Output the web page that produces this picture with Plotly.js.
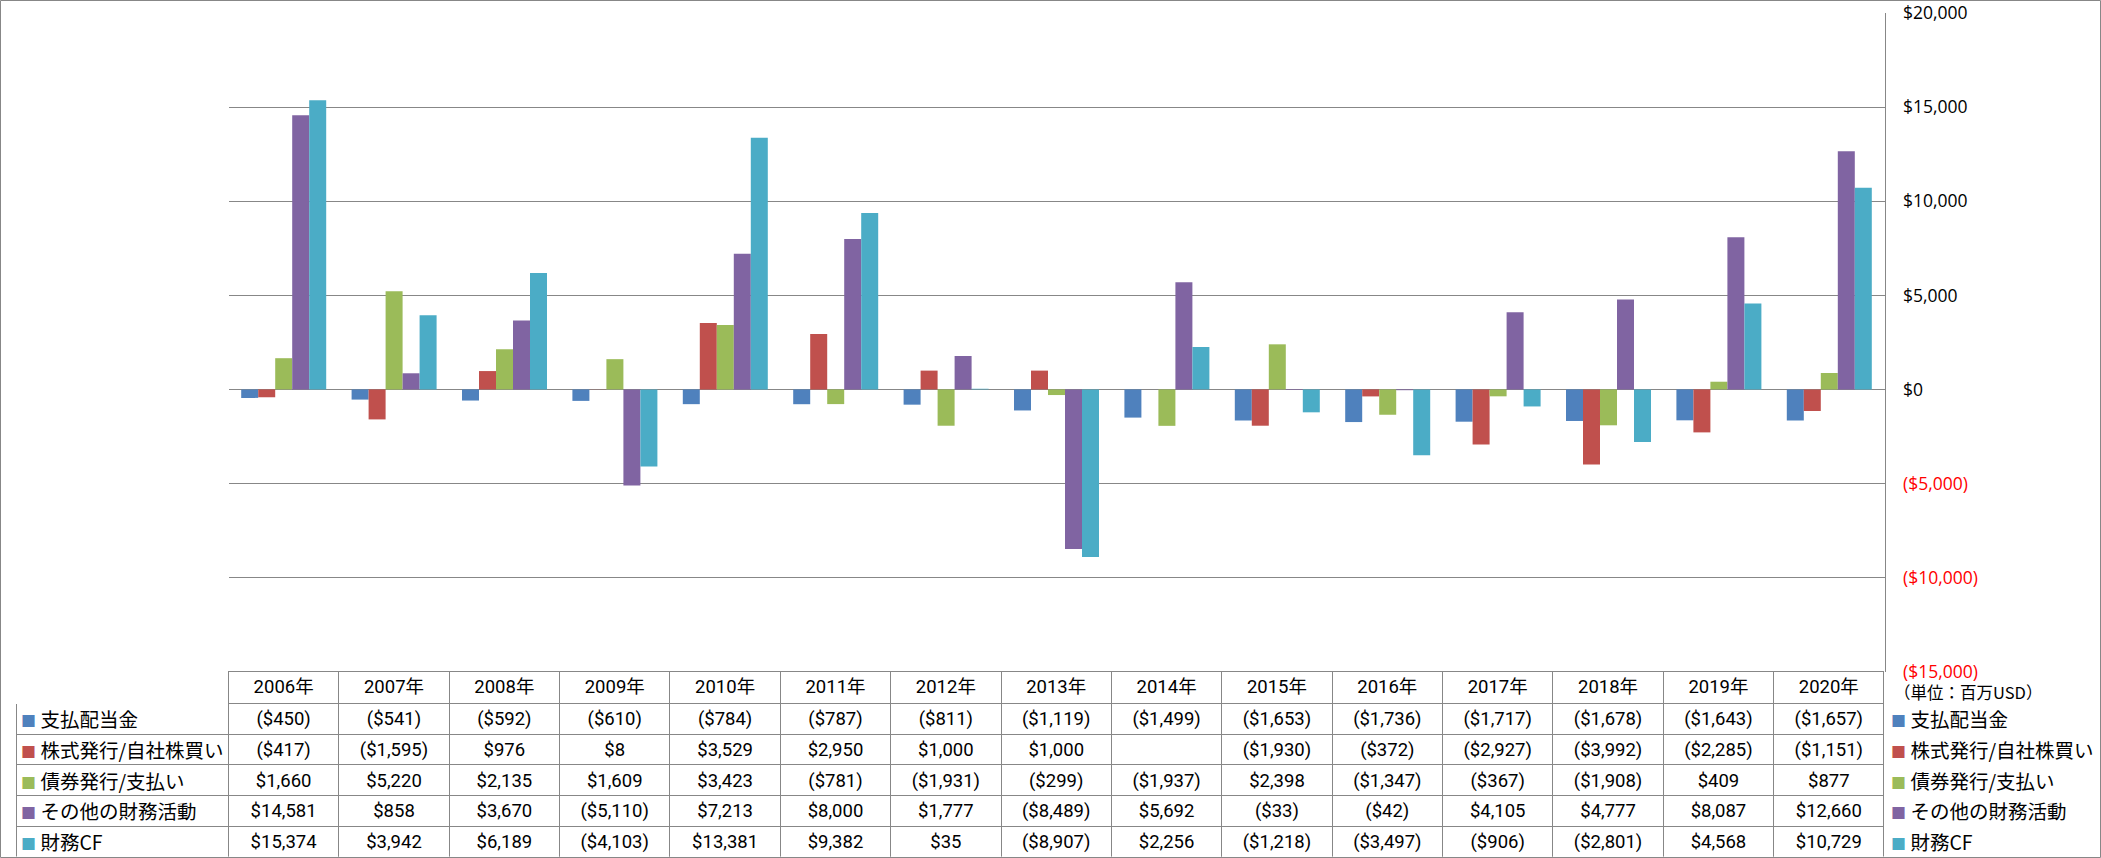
<!DOCTYPE html>
<html>
<head>
<meta charset="utf-8">
<script src="https://cdn.plot.ly/plotly-3.0.1.min.js"></script>
<style>
html,body{margin:0;padding:0;background:#fff;}
#chart{width:2101px;height:858px;}
</style>
</head>
<body>
<div id="chart"></div>
<script>
// ---- data ----
const years = ["2006年","2007年","2008年","2009年","2010年","2011年","2012年","2013年","2014年","2015年","2016年","2017年","2018年","2019年","2020年"];
const seriesNames = ["支払配当金","株式発行/自社株買い","債券発行/支払い","その他の財務活動","財務CF"];
const dividends = [-450,-541,-592,-610,-784,-787,-811,-1119,-1499,-1653,-1736,-1717,-1678,-1643,-1657];
const stockIssue = [-417,-1595,976,8,3529,2950,1000,1000,null,-1930,-372,-2927,-3992,-2285,-1151];
const debtIssue = [1660,5220,2135,1609,3423,-781,-1931,-299,-1937,2398,-1347,-367,-1908,409,877];
const otherFin = [14581,858,3670,-5110,7213,8000,1777,-8489,5692,-33,-42,4105,4777,8087,12660];
const financingCF = [15374,3942,6189,-4103,13381,9382,35,-8907,2256,-1218,-3497,-906,-2801,4568,10729];
const yTicks = [-15000,-10000,-5000,0,5000,10000,15000,20000];
const unitLabel = "（単位：百万USD）";

// ---- style ----
const colors = ["#4F81BD","#C0504D","#9BBB59","#8064A2","#4BACC6"];
const W = 2101, H = 858;
const grid = "#878787";
const plotL = 228.5, plotR = 1884.5, plotT = 13.3, plotB = 671.5;
const tabL = 16, tabT = 671.5, tabB = 857, headH = 32;
const cellH = (tabB - tabT - headH) / 5;
const NB = "\u00a0";

function money(v){
  if (v === null || v === undefined) return "";
  const s = "$" + Math.abs(v).toLocaleString("en-US");
  return v < 0 ? "(" + s + ")" : s;
}
function swatch(c){
  return "<span style=\"color:" + c + ";font-size:15px\">■</span>";
}
const allSeries = [dividends, stockIssue, debtIssue, otherFin, financingCF];

const traces = allSeries.map((vals, i) => ({
  type: "bar",
  name: seriesNames[i],
  x: years,
  y: vals,
  marker: {color: colors[i], line: {width: 0}},
  hoverinfo: "x+y+name",
  showlegend: false
}));

// table (label column cells are filled by the legend-key annotations below)
const labelCells = seriesNames.map(() => "");
const tableCols = [labelCells].concat(years.map((y, j) => allSeries.map(s => money(s[j]))));
const headerVals = [""].concat(years);
const headerLine = ["#ffffff"].concat(years.map(() => grid));
const numFont = "Roboto, Noto Sans CJK JP, sans-serif";

traces.push({
  type: "table",
  domain: {x: [tabL / W, plotR / W], y: [1 - tabB / H, 1 - tabT / H]},
  columnwidth: [plotL - tabL].concat(years.map(() => (plotR - plotL) / years.length)),
  header: {
    values: headerVals,
    height: headH,
    align: "center",
    line: {color: headerLine, width: 1},
    fill: {color: "#ffffff"},
    font: {family: numFont, size: 18.5, color: "#000"}
  },
  cells: {
    values: tableCols,
    height: cellH,
    align: "center",
    line: {color: grid, width: 1},
    fill: {color: "#ffffff"},
    font: {family: numFont, size: 18.5, color: "#000"}
  }
});

const tickText = yTicks.map(v => v < 0 ? "<span style=\"color:#FF0000\">" + money(v) + "</span>" : money(v));

const annotations = [];
seriesNames.forEach((n, i) => {
  const yRow = 1 - (tabT + headH + (i + 0.5) * cellH) / H;
  [18.5, 1889].forEach(px => {
    annotations.push({
      xref: "paper", yref: "paper",
      x: px / W, xanchor: "left",
      y: yRow, yanchor: "middle",
      text: swatch(colors[i]) + NB + n,
      showarrow: false,
      font: {family: "Noto Sans CJK JP, sans-serif", size: 19.5, color: "#000"}
    });
  });
});
annotations.push({
  xref: "paper", yref: "paper",
  x: 1892 / W, xanchor: "left",
  y: 1 - 692 / H, yanchor: "middle",
  text: unitLabel,
  showarrow: false,
  font: {family: "Noto Sans CJK JP, sans-serif", size: 16.5, color: "#000"}
});

const layout = {
  width: W, height: H,
  margin: {l: 0, r: 0, t: 0, b: 0},
  paper_bgcolor: "#ffffff",
  plot_bgcolor: "#ffffff",
  barmode: "group",
  bargap: 0.23,
  bargroupgap: 0,
  showlegend: false,
  xaxis: {
    type: "category",
    domain: [plotL / W, plotR / W],
    showticklabels: false,
    showgrid: false,
    zeroline: false,
    showline: false,
    ticks: ""
  },
  yaxis: {
    domain: [1 - plotB / H, 1 - plotT / H],
    range: [-15000, 20000],
    side: "right",
    tickvals: yTicks,
    ticktext: tickText,
    tickfont: {family: "Open Sans, sans-serif", size: 17.5, color: "#000"},
    ticks: "",
    ticklabelstandoff: 14,
    showgrid: true,
    gridcolor: grid,
    gridwidth: 1,
    zeroline: true,
    zerolinecolor: grid,
    zerolinewidth: 1,
    showline: true,
    linecolor: grid,
    linewidth: 1
  },
  annotations: annotations,
  shapes: [{
    type: "rect", xref: "paper", yref: "paper",
    x0: 0.5 / W, x1: (W - 0.5) / W, y0: 0.5 / H, y1: (H - 0.5) / H,
    line: {color: grid, width: 1}, fillcolor: "rgba(0,0,0,0)", layer: "above"
  }]
};

Plotly.newPlot("chart", traces, layout, {displayModeBar: false, staticPlot: true});
</script>
</body>
</html>
